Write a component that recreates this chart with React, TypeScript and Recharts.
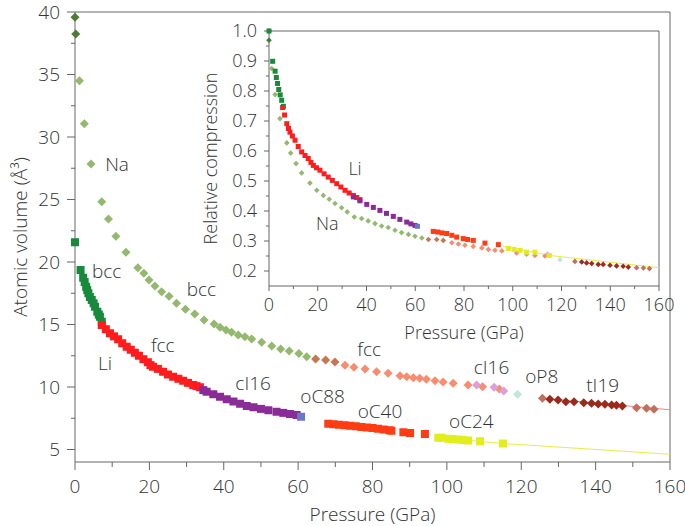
import React from 'react';
import { ScatterChart, Scatter, XAxis, YAxis, ReferenceDot, ReferenceLine, Label } from 'recharts';

// ---- main panel: atomic volume (Å^3) vs pressure (GPa) ----
const naBcc0 = [[0, 39.58], [0.2, 38.24]];
const naBcc = [
  [1.2, 34.5], [2.5, 31.06], [4.3, 27.84], [7.2, 24.82], [9.0, 23.44], [11.0, 22.06], [13.7, 20.78],
  [16.9, 19.54], [18.5, 19.1], [19.9, 18.56], [21.5, 18.08], [23.3, 17.62], [25.3, 17.26], [27.3, 16.7],
  [29.7, 16.22], [32.2, 15.84], [34.7, 15.36], [37.4, 15.04], [39.0, 14.78], [40.6, 14.56], [42.1, 14.38],
  [43.9, 14.16], [45.7, 14.02], [47.5, 13.84], [50.2, 13.58], [52.9, 13.28], [55.3, 13.04], [57.6, 12.88],
  [60.2, 12.69], [62.3, 12.42],
];
const naTrans = [[64.7, 12.24], [67.4, 12.16], [69.9, 12.0]];
const naFcc = [
  [72.6, 11.74], [75.0, 11.58], [78.0, 11.44], [81.1, 11.22], [84.2, 11.1], [87.4, 10.9], [89.2, 10.82],
  [91.0, 10.74], [92.7, 10.7], [94.5, 10.62], [96.8, 10.5], [99.0, 10.4], [101.7, 10.3], [105.7, 10.16],
  [109.6, 10.02], [114.1, 9.84],
];
const naCI16 = [[108.0, 10.16], [112.7, 9.98], [115.3, 9.68]];
const naOP8 = [[119.0, 9.42]];
const naTI19 = [
  [127.7, 9.02], [129.9, 8.96], [132.0, 8.82], [134.2, 8.82], [136.8, 8.74], [138.9, 8.7], [140.7, 8.64],
  [142.5, 8.62], [144.3, 8.56], [145.6, 8.54], [147.2, 8.48],
];
const naTI19b = [[125.7, 9.1], [151.0, 8.34], [153.7, 8.3], [155.7, 8.22]];
const naFit = [[125.7, 9.1], [160, 8.18]];

const liBcc = [
  [0, 21.58], [1.5, 19.36], [2.2, 18.74], [2.6, 18.4], [3.0, 18.02], [3.3, 17.75], [3.6, 17.5], [4.0, 17.2],
  [4.5, 16.96], [5.0, 16.7], [5.4, 16.42], [6.0, 16.02], [6.4, 15.8], [6.7, 15.62], [7.2, 15.22],
];
const liFcc = [
  [7.2, 14.96], [8.3, 14.62], [9.4, 14.3], [10.5, 14.05], [11.6, 13.82], [12.7, 13.5], [13.9, 13.22],
  [15.0, 12.98], [16.1, 12.74], [17.2, 12.5], [18.4, 12.22], [19.6, 11.98], [20.3, 11.75], [21.0, 11.62],
  [22.3, 11.45], [23.7, 11.22], [25.0, 11.0], [26.4, 10.82], [27.8, 10.66], [29.1, 10.5], [30.4, 10.33],
  [31.8, 10.16], [32.7, 10.07], [33.6, 9.98],
];
const liCI16 = [
  [34.5, 9.75], [35.4, 9.62], [37.2, 9.42], [39.0, 9.22], [40.8, 9.02], [42.6, 8.84], [44.4, 8.66],
  [46.2, 8.48], [48.0, 8.38], [50.0, 8.25], [52.0, 8.14], [54.2, 8.02], [56.0, 7.93], [57.8, 7.84], [59.6, 7.76],
];
const liOC88 = [[60.8, 7.62]];
const liOC40 = [
  [68.1, 7.06], [69.5, 7.02], [71.0, 6.98], [72.5, 6.94], [74.0, 6.9], [75.5, 6.86], [77.0, 6.8],
  [78.5, 6.76], [80.0, 6.72], [81.5, 6.66], [83.0, 6.6], [84.5, 6.54], [85.1, 6.5], [88.3, 6.38],
  [90.1, 6.32], [94.1, 6.24],
];
const liOC24 = [
  [97.7, 5.94], [98.6, 5.94], [100.4, 5.86], [101.5, 5.84], [103.0, 5.8], [104.3, 5.76], [105.7, 5.72],
  [108.9, 5.66], [115.1, 5.48],
];
const liFit = [[97.7, 5.95], [115.1, 5.48], [160, 4.62]];

const mainXTicks = [0, 10, 20, 30, 40, 50, 60, 70, 80, 90, 100, 110, 120, 130, 140, 150, 160];
const mainYTicks = [5, 7.5, 10, 12.5, 15, 17.5, 20, 22.5, 25, 27.5, 30, 32.5, 35, 37.5, 40];

const mainNotes: [string, number, number][] = [
  ['Na', 11.3, 27.84], ['bcc', 8.5, 19.28], ['bcc', 34.0, 17.84], ['Li', 8.1, 11.9], ['fcc', 23.6, 13.36],
  ['fcc', 79.1, 13.04], ['cI16', 47.9, 10.3], ['oC88', 66.6, 9.28], ['oC40', 82.0, 8.02], ['oC24', 106.6, 7.22],
  ['cI16', 112.0, 11.58], ['oP8', 125.5, 10.82], ['tI19', 141.9, 10.16],
];

// ---- inset: relative compression vs pressure ----
const naInBcc0 = [[0, 1.0], [0, 0.969]];
const naInBcc = [
  [1.1, 0.875], [2.5, 0.788], [4.5, 0.708], [7.3, 0.627], [8.9, 0.593], [11.1, 0.558], [13.4, 0.527],
  [16.8, 0.493], [19.6, 0.469], [22.3, 0.452], [24.7, 0.439], [27.1, 0.425], [29.8, 0.411], [32.1, 0.397],
  [35.0, 0.38], [38.0, 0.375], [40.7, 0.367], [43.5, 0.358], [46.2, 0.35], [48.9, 0.345], [51.7, 0.336],
  [54.4, 0.328], [57.2, 0.322], [59.9, 0.316], [62.7, 0.31],
];
const naInTrans = [[65.4, 0.305], [68.8, 0.305], [71.5, 0.302]];
const naInFcc = [
  [75.0, 0.294], [77.7, 0.29], [80.4, 0.286], [83.8, 0.282], [87.3, 0.277], [90.0, 0.272], [92.7, 0.269],
  [95.5, 0.267], [101.6, 0.26], [105.7, 0.256], [109.1, 0.252], [113.2, 0.25],
];
const naInCI16 = [[114.3, 0.256]];
const naInOP8 = [[119.4, 0.238]];
const naInTI19 = [
  [128.3, 0.23], [130.3, 0.227], [132.4, 0.225], [135.1, 0.222], [137.1, 0.222], [139.9, 0.219],
  [142.6, 0.217], [145.3, 0.216], [147.4, 0.213],
];
const naInTI19b = [[125.5, 0.232], [150.8, 0.211], [153.6, 0.21], [156.1, 0.208]];

const liInBcc = [
  [0, 1.0], [1.5, 0.899], [2.5, 0.866], [3.0, 0.845], [3.5, 0.825], [4.0, 0.805], [4.6, 0.787],
  [5.2, 0.769], [5.9, 0.749],
];
const liInFcc = [
  [5.6, 0.745], [6.4, 0.72], [7.3, 0.691], [8.0, 0.675], [8.6, 0.663], [9.6, 0.65], [10.7, 0.636],
  [12.0, 0.615], [13.4, 0.597], [14.8, 0.585], [16.1, 0.575], [17.2, 0.562], [18.2, 0.552], [19.5, 0.544],
  [20.9, 0.536], [22.6, 0.524], [24.3, 0.513], [26.0, 0.502], [27.8, 0.491], [29.5, 0.48], [31.2, 0.469],
  [32.9, 0.46], [34.6, 0.452], [36.0, 0.445], [37.3, 0.438],
];
const liInCI16 = [
  [34.6, 0.447], [37.3, 0.434], [40.1, 0.422], [42.8, 0.412], [45.5, 0.402], [48.2, 0.392], [51.0, 0.382],
  [53.7, 0.372], [56.5, 0.363], [58.2, 0.357], [59.9, 0.352],
];
const liInOC88 = [[60.9, 0.349]];
const liInOC40 = [
  [67.4, 0.332], [69.2, 0.33], [71.0, 0.327], [72.9, 0.325], [75.0, 0.319], [77.0, 0.313], [79.7, 0.308],
  [81.5, 0.305], [83.8, 0.302], [88.6, 0.293], [94.1, 0.288],
];
const liInOC24 = [[98.2, 0.275], [100.5, 0.272], [103.0, 0.269], [105.7, 0.263], [109.1, 0.263], [115.0, 0.252]];
const liInFit = [[96.0, 0.283], [115.0, 0.252], [160, 0.211]];

const insetXTicks = mainXTicks;
const insetYTicks = [0.2, 0.25, 0.3, 0.35, 0.4, 0.45, 0.5, 0.55, 0.6, 0.65, 0.7, 0.75, 0.8, 0.85, 0.9, 0.95, 1.0];

const insetNotes: [string, number, number][] = [['Li', 35.3, 0.541], ['Na', 23.9, 0.358]];

const FONT = "'Open Sans', 'DejaVu Sans', sans-serif";
const AXIS = '#666';
const TEXT = '#333';

const pts = (arr: number[][]) => arr.map(([p, v]) => ({ p, v }));

const square = (s: number, fill: string) => (props: any) => (
  <rect x={props.cx - s / 2} y={props.cy - s / 2} width={s} height={s} fill={fill} />
);
const diamond = (r: number, fill: string) => (props: any) => (
  <polygon
    points={`${props.cx},${props.cy - r} ${props.cx + r},${props.cy} ${props.cx},${props.cy + r} ${props.cx - r},${props.cy}`}
    fill={fill}
  />
);
const noShape = () => <g />;

const xTick = (isMajor: (v: number) => boolean, len: number, minor: number, off: number, fs: number) => (props: any) => {
  const { x, y, payload } = props;
  const major = isMajor(payload.value);
  return (
    <g>
      <line x1={x} y1={y} x2={x} y2={y + (major ? len : minor)} stroke={AXIS} />
      {major && (
        <text x={x} y={y + off} textAnchor="middle" fontSize={fs} fill={TEXT} fontFamily={FONT} fontWeight={300}>
          {payload.value}
        </text>
      )}
    </g>
  );
};

const yTick = (isMajor: (v: number) => boolean, fmt: (v: number) => string, len: number, minor: number, off: number, fs: number) => (props: any) => {
  const { x, y, payload } = props;
  const major = isMajor(payload.value);
  return (
    <g>
      <line x1={x} y1={y} x2={x - (major ? len : minor)} y2={y} stroke={AXIS} />
      {major && (
        <text x={x - off} y={y} dy="0.36em" textAnchor="end" fontSize={fs} fill={TEXT} fontFamily={FONT} fontWeight={300}>
          {fmt(payload.value)}
        </text>
      )}
    </g>
  );
};

const xTitle = (text: string, dy: number, fs: number) => (props: any) => {
  const vb = props.viewBox;
  return (
    <text x={vb.x + vb.width / 2} y={vb.y + dy} textAnchor="middle" fontSize={fs} fill={TEXT} fontFamily={FONT} fontWeight={300}>
      {text}
    </text>
  );
};

const yTitle = (text: string, dx: number, fs: number) => (props: any) => {
  const vb = props.viewBox;
  const cx = vb.x + vb.width - dx;
  const cy = vb.y + vb.height / 2;
  return (
    <text x={cx} y={cy} transform={`rotate(-90 ${cx} ${cy})`} textAnchor="middle" fontSize={fs} fill={TEXT} fontFamily={FONT} fontWeight={300}>
      {text}
    </text>
  );
};

const MainChart = () => (
  <ScatterChart width={685} height={526} margin={{ top: 12, right: 15, bottom: 0, left: 0 }}>
    <XAxis
      dataKey="p" type="number" domain={[0, 160]} ticks={mainXTicks} interval={0} height={64}
      tickSize={0} tickMargin={0} stroke={AXIS} tick={xTick((v) => v % 20 === 0, 8, 5, 31, 19)}
    >
      <Label content={xTitle('Pressure (GPa)', 59, 19)} />
    </XAxis>
    <YAxis
      dataKey="v" type="number" domain={[4, 40]} ticks={mainYTicks} interval={0} width={75}
      tickSize={0} tickMargin={0} stroke={AXIS}
      tick={yTick((v) => v % 5 === 0, (v) => String(v), 8, 4, 15, 19)}
    >
      <Label content={yTitle('Atomic volume (Å³)', 48, 19)} />
    </YAxis>
    <ReferenceLine y={40} stroke={AXIS} />
    <ReferenceLine x={160} stroke={AXIS} />

    <Scatter data={pts(naFit)} line={{ stroke: '#e58a86', strokeWidth: 1 }} shape={noShape} isAnimationActive={false} />
    <Scatter data={pts(liFit)} line={{ stroke: '#e4ec4a', strokeWidth: 1 }} shape={noShape} isAnimationActive={false} />

    <Scatter data={pts(naBcc0)} shape={diamond(4.5, '#4f7a38')} isAnimationActive={false} />
    <Scatter data={pts(naBcc)} shape={diamond(4.5, '#93b86e')} isAnimationActive={false} />
    <Scatter data={pts(naTrans)} shape={diamond(4.5, '#c57850')} isAnimationActive={false} />
    <Scatter data={pts(naFcc)} shape={diamond(4.5, '#f88c70')} isAnimationActive={false} />
    <Scatter data={pts(naCI16)} shape={diamond(4.5, '#dba0d6')} isAnimationActive={false} />
    <Scatter data={pts(naOP8)} shape={diamond(4.5, '#c2e6dc')} isAnimationActive={false} />
    <Scatter data={pts(naTI19b)} shape={diamond(4.5, '#c0705c')} isAnimationActive={false} />
    <Scatter data={pts(naTI19)} shape={diamond(4.5, '#9c2a1c')} isAnimationActive={false} />

    <Scatter data={pts(liBcc)} shape={square(8, '#178a3c')} isAnimationActive={false} />
    <Scatter data={pts(liFcc)} shape={square(8, '#ff1c1c')} isAnimationActive={false} />
    <Scatter data={pts(liCI16)} shape={square(8, '#8a2c98')} isAnimationActive={false} />
    <Scatter data={pts(liOC88)} shape={square(8, '#6a78c2')} isAnimationActive={false} />
    <Scatter data={pts(liOC40)} shape={square(8, '#ff3c14')} isAnimationActive={false} />
    <Scatter data={pts(liOC24)} shape={square(8, '#e2ee1c')} isAnimationActive={false} />

    {mainNotes.map(([t, p, v], i) => (
      <ReferenceDot key={i} x={p} y={v} r={0} fill="none" stroke="none"
        label={{ value: t, position: 'center', fontSize: 19, fill: TEXT, fontFamily: FONT, fontWeight: 300 }} />
    ))}
  </ScatterChart>
);

const InsetChart = () => (
  <ScatterChart width={685} height={526} margin={{ top: 31, right: 26, bottom: 0, left: 0 }}>
    <XAxis
      dataKey="p" type="number" domain={[0, 160]} ticks={insetXTicks} interval={0} height={240}
      tickSize={0} tickMargin={0} stroke={AXIS} tick={xTick((v) => v % 20 === 0, 5, 3, 25, 18)}
    >
      <Label content={xTitle('Pressure (GPa)', 53, 18)} />
    </XAxis>
    <YAxis
      dataKey="v" type="number" domain={[0.15, 1.0]} ticks={insetYTicks} interval={0} width={269}
      tickSize={0} tickMargin={0} stroke={AXIS}
      tick={yTick((v) => Math.round(v * 100) % 10 === 0, (v) => v.toFixed(1), 5, 3, 12, 18)}
    >
      <Label content={yTitle('Relative compression', 52, 18)} />
    </YAxis>
    <ReferenceLine y={1.0} stroke={AXIS} />
    <ReferenceLine x={160} stroke={AXIS} />

    <Scatter data={pts(liInFit)} line={{ stroke: '#e4ec4a', strokeWidth: 1 }} shape={noShape} isAnimationActive={false} />

    <Scatter data={pts(naInBcc0)} shape={diamond(2.8, '#3f7a36')} isAnimationActive={false} />
    <Scatter data={pts(naInBcc)} shape={diamond(2.8, '#93b86e')} isAnimationActive={false} />
    <Scatter data={pts(naInTrans)} shape={diamond(2.8, '#c57850')} isAnimationActive={false} />
    <Scatter data={pts(naInFcc)} shape={diamond(2.8, '#f88c70')} isAnimationActive={false} />
    <Scatter data={pts(naInCI16)} shape={diamond(2.8, '#dba0d6')} isAnimationActive={false} />
    <Scatter data={pts(naInOP8)} shape={diamond(2.8, '#c2e6dc')} isAnimationActive={false} />
    <Scatter data={pts(naInTI19b)} shape={diamond(2.8, '#c0705c')} isAnimationActive={false} />
    <Scatter data={pts(naInTI19)} shape={diamond(2.8, '#9c2a1c')} isAnimationActive={false} />

    <Scatter data={pts(liInBcc)} shape={square(5, '#178a3c')} isAnimationActive={false} />
    <Scatter data={pts(liInFcc)} shape={square(5, '#ff1c1c')} isAnimationActive={false} />
    <Scatter data={pts(liInCI16)} shape={square(5, '#8a2c98')} isAnimationActive={false} />
    <Scatter data={pts(liInOC88)} shape={square(5, '#6a78c2')} isAnimationActive={false} />
    <Scatter data={pts(liInOC40)} shape={square(5, '#ff3c14')} isAnimationActive={false} />
    <Scatter data={pts(liInOC24)} shape={square(5, '#e2ee1c')} isAnimationActive={false} />

    {insetNotes.map(([t, p, v], i) => (
      <ReferenceDot key={i} x={p} y={v} r={0} fill="none" stroke="none"
        label={{ value: t, position: 'center', fontSize: 18, fill: TEXT, fontFamily: FONT, fontWeight: 300 }} />
    ))}
  </ScatterChart>
);

export default function App() {
  return (
    <div style={{ position: 'absolute', left: 0, top: 0, width: 685, height: 526, background: '#fff' }}>
      <div style={{ position: 'absolute', left: 0, top: 0 }}>
        <MainChart />
      </div>
      <div style={{ position: 'absolute', left: 0, top: 0 }}>
        <InsetChart />
      </div>
    </div>
  );
}
